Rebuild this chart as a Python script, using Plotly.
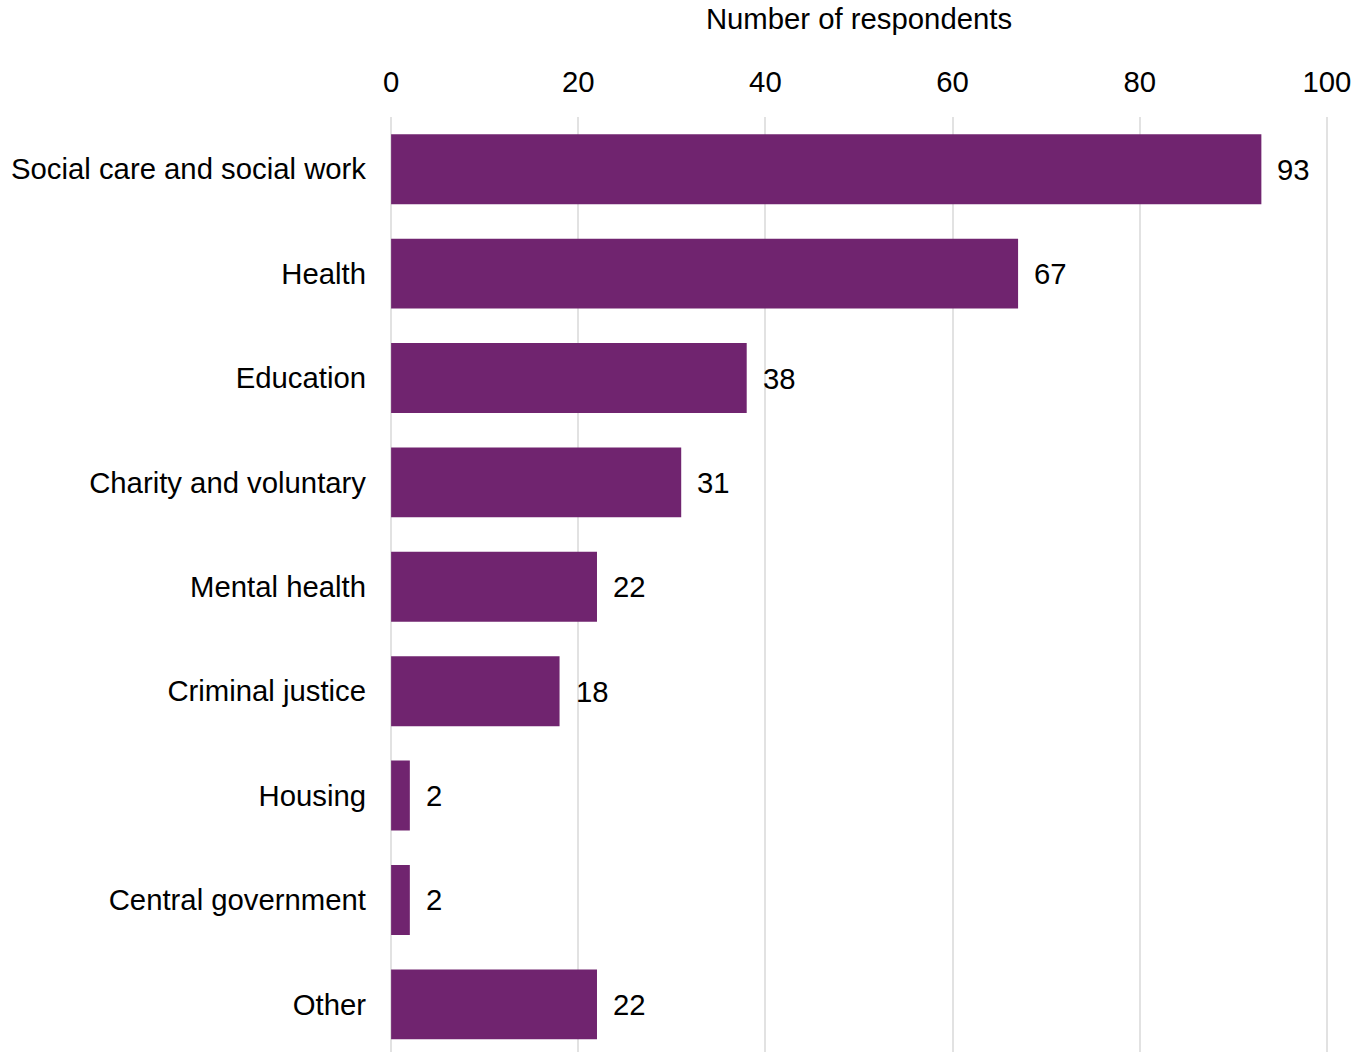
import plotly.graph_objects as go

categories = ["Social care and social work", "Health", "Education", "Charity and voluntary",
              "Mental health", "Criminal justice", "Housing", "Central government", "Other"]
values = [93, 67, 38, 31, 22, 18, 2, 2, 22]
tick_vals = [0, 20, 40, 60, 80, 100]

FONT = "Liberation Sans, Arial, sans-serif"
FS = 29.3

fig = go.Figure()
fig.add_trace(go.Bar(
    x=values, y=categories, orientation="h",
    marker=dict(color="#70246F", line=dict(width=0)),
    hoverinfo="x+y",
))

for c, v in zip(categories, values):
    fig.add_annotation(x=v, y=c, text=str(v), showarrow=False, xanchor="left",
                       xshift=14, font=dict(family=FONT, size=FS, color="black"))

fig.update_layout(
    width=1367, height=1052,
    margin=dict(l=390, r=39, t=117, b=0),
    paper_bgcolor="white", plot_bgcolor="white",
    font=dict(family=FONT, size=FS, color="black"),
    bargap=0.33,
    showlegend=False,
)
fig.update_xaxes(
    side="top", range=[-0.12, 100.12], tickvals=tick_vals,
    showgrid=True, gridcolor="#e2e2e2", gridwidth=2,
    zeroline=False, showline=False, ticks="", ticklen=0,
    ticklabelstandoff=18,
    tickfont=dict(size=FS), title=dict(text="Number of respondents", font=dict(size=FS), standoff=26),
)
fig.update_yaxes(
    categoryorder="array", categoryarray=categories, autorange=False, range=[8.456, -0.5],
    showgrid=False, zeroline=False, showline=False, ticks="", ticklen=0,
    ticklabelstandoff=23,
    tickfont=dict(size=FS),
)

fig.write_html("out.html")
